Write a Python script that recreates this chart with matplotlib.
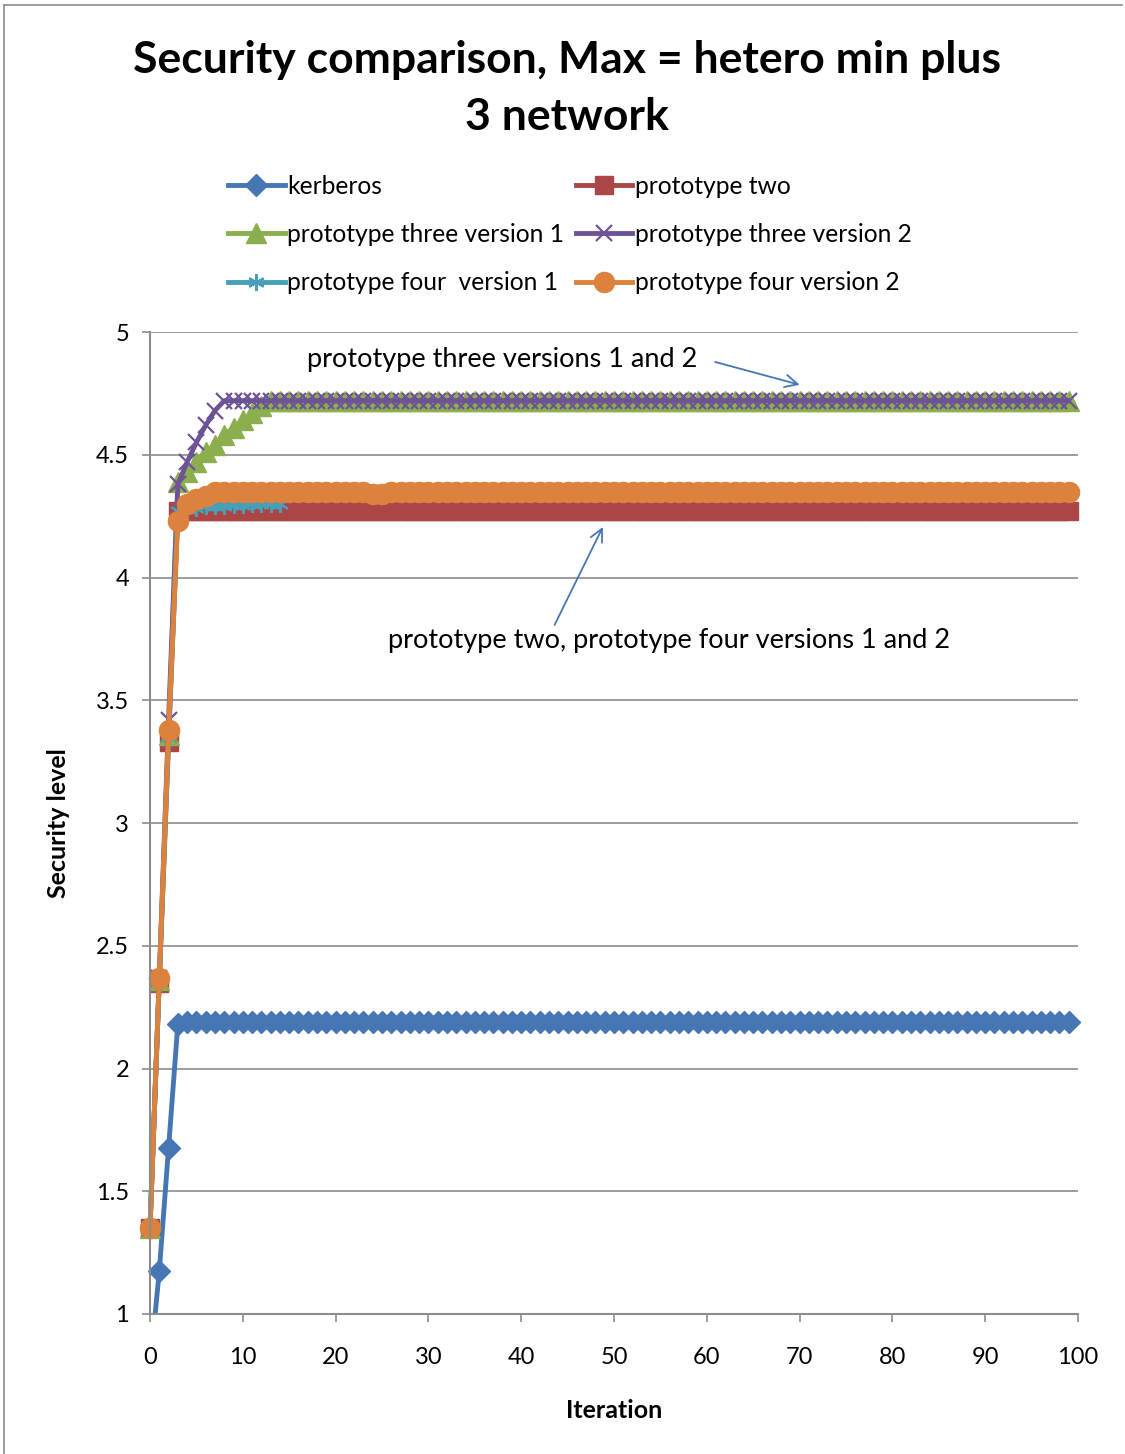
import matplotlib
matplotlib.use("Agg")
import matplotlib.pyplot as plt
from matplotlib.lines import Line2D
from matplotlib.transforms import Bbox, TransformedBbox

plt.rcParams['font.family'] = ['Lato', 'DejaVu Sans']

iterations = list(range(100))

kerberos = [0.78, 1.175, 1.676, 2.18] + [2.19] * 96
prototype_two = [1.35, 2.35, 3.33, 4.27] + [4.27] * 96
prototype_three_v1 = ([1.35, 2.36, 3.36, 4.39, 4.43, 4.47, 4.51, 4.54, 4.58,
                       4.61, 4.64, 4.67, 4.70] + [4.72] * 87)
prototype_three_v2 = ([1.35, 2.37, 3.42, 4.38, 4.47, 4.55, 4.62, 4.68]
                      + [4.72] * 92)
prototype_four_v1 = ([1.35, 2.36, 3.35, 4.27, 4.28, 4.285, 4.29, 4.29, 4.29,
                      4.295, 4.295, 4.30, 4.30, 4.30, 4.30] + [4.35] * 85)
prototype_four_v2 = ([1.35, 2.37, 3.38, 4.23, 4.30, 4.32, 4.33]
                     + [4.35] * 17 + [4.34, 4.34] + [4.35] * 74)

series = [
    ("kerberos", kerberos, "#4676B4", "D", 11, {}),
    ("prototype two", prototype_two, "#AA4646", "s", 13.5, {}),
    ("prototype three version 1", prototype_three_v1, "#8BAE4E", "^", 14, {}),
    ("prototype three version 2", prototype_three_v2, "#6E5296", "x", 11.5,
     {"markeredgewidth": 1.6}),
    ("prototype four  version 1", prototype_four_v1, "#46A0B9", (6, 2, 0), 12,
     {"markeredgewidth": 1.6}),
    ("prototype four version 2", prototype_four_v2, "#DC823C", "o", 14.5, {}),
]

W, H = 1125, 1454
fig = plt.figure(figsize=(W / 100, H / 100), dpi=100)
left, right, top, bottom = 150, 1078, 332, 1314
ax = fig.add_axes([left / W, 1 - bottom / H, (right - left) / W, (bottom - top) / H])

ax.set_xlim(0, 100)
ax.set_ylim(1, 5)

# Lines stop at the value-axis floor, while markers at iteration 0 stay whole
clip_box = TransformedBbox(Bbox([[-3, 1], [103, 5.3]]), ax.transData)

handles = {}
for name, vals, color, marker, ms, extra in series:
    kw = dict(color=color, linewidth=3.5, marker=marker, markersize=ms,
              markerfacecolor=color, markeredgecolor=color,
              solid_joinstyle="round")
    kw.update(extra)
    line, = ax.plot(iterations, vals, label=name, **kw)
    line.set_clip_box(clip_box)
    handles[name] = line

ax.set_xticks(range(0, 101, 10))
ax.set_yticks([1, 1.5, 2, 2.5, 3, 3.5, 4, 4.5, 5])
ax.set_yticklabels(["1", "1.5", "2", "2.5", "3", "3.5", "4", "4.5", "5"])
ax.yaxis.grid(True, color="#8C8C8C", linewidth=1.2)
ax.set_axisbelow(True)
for s in ["top", "right"]:
    ax.spines[s].set_visible(False)
for s in ["left", "bottom"]:
    ax.spines[s].set_color("#8C8C8C")
    ax.spines[s].set_linewidth(1.5)
ax.tick_params(axis="both", direction="out", length=6, width=1.2,
               color="#8C8C8C", labelsize=17, pad=9)
ax.tick_params(axis="x", pad=18)

ax.set_xlabel("Iteration", fontsize=18, fontweight="bold", labelpad=22)
ax.set_ylabel("Security level", fontsize=18, fontweight="bold", labelpad=19)

fig.text(567 / W, 1 - 40 / H, "Security comparison, Max = hetero min plus\n3 network",
         ha="center", va="top", fontsize=32, fontweight="bold",
         linespacing=1.5)

order = ["kerberos", "prototype three version 1", "prototype four  version 1",
         "prototype two", "prototype three version 2", "prototype four version 2"]
leg = fig.legend([handles[n] for n in order], order, ncol=2,
                 loc="upper left", bbox_to_anchor=(228 / W, 1 - 175 / H),
                 fontsize=17.7, frameon=False, handlelength=2.3,
                 handletextpad=0.12, columnspacing=0.45, labelspacing=1.02,
                 borderaxespad=0, borderpad=0)

arrow_style = dict(arrowstyle="->,head_length=0.9,head_width=0.45",
                   color="#4676B4", lw=1.3, shrinkA=0, shrinkB=0)

ax.text(16.9, 4.89, "prototype three versions 1 and 2", fontsize=19.5,
        va="center", ha="left")
ax.annotate("", xy=(70.0, 4.785), xytext=(60.9, 4.878),
            arrowprops=arrow_style, annotation_clip=False)

ax.text(25.6, 3.745, "prototype two, prototype four versions 1 and 2",
        fontsize=19.5, va="center", ha="left")
ax.annotate("", xy=(48.8, 4.206), xytext=(43.6, 3.807),
            arrowprops=arrow_style, annotation_clip=False)

# Outer chart frame: left and top edges
fig.add_artist(Line2D([4 / W, 4 / W], [0, 1 - 5 / H], transform=fig.transFigure,
                      color="#8C8C8C", linewidth=1.2))
fig.add_artist(Line2D([4 / W, 1122 / W], [1 - 5 / H, 1 - 5 / H],
                      transform=fig.transFigure, color="#8C8C8C", linewidth=1.2))

fig.savefig("out.png", dpi=100)
